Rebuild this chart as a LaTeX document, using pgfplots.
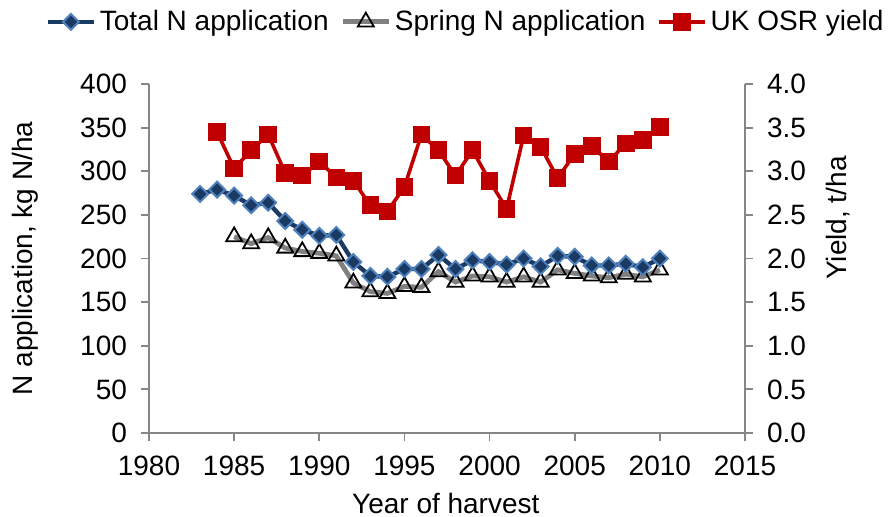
\documentclass[border=0pt]{standalone}
\usepackage{fontspec}
\setmainfont{Liberation Sans}
\usepackage{pgfplots}
\pgfplotsset{compat=1.18}

\definecolor{navy}{HTML}{1B3A63}
\definecolor{ltblue}{HTML}{4F81BD}
\definecolor{sgray}{HTML}{808080}
\definecolor{osr}{HTML}{C00000}
\definecolor{axgray}{HTML}{868686}

\pgfplotstableread{
year total
1983 274
1984 279
1985 272
1986 261
1987 264
1988 243
1989 233
1990 226
1991 227
1992 196
1993 180
1994 179
1995 188
1996 188
1997 204
1998 188
1999 198
2000 196
2001 193
2002 200
2003 191
2004 203
2005 202
2006 192
2007 192
2008 194
2009 190
2010 200
}\totaln

\pgfplotstableread{
year spring
1985 225
1986 217
1987 224
1988 212
1989 208
1990 206
1991 203
1992 172
1993 162
1994 160
1995 168
1996 167
1997 185
1998 173
1999 180
2000 179
2001 173
2002 179
2003 173
2004 187
2005 183
2006 180
2007 178
2008 182
2009 179
2010 187
}\springn

\pgfplotstableread{
year yield
1984 3.45
1985 3.03
1986 3.24
1987 3.42
1988 2.98
1989 2.95
1990 3.11
1991 2.93
1992 2.89
1993 2.61
1994 2.54
1995 2.82
1996 3.42
1997 3.24
1998 2.95
1999 3.24
2000 2.89
2001 2.57
2002 3.41
2003 3.28
2004 2.92
2005 3.20
2006 3.29
2007 3.11
2008 3.32
2009 3.36
2010 3.51
}\osryield

\pgfplotsset{
  common/.style={
    scale only axis, width=298pt, height=174.5pt,
    xmin=1980, xmax=2015,
    font=\fontsize{14}{16}\selectfont,
    /pgf/number format/assume math mode=true,
    /pgf/number format/1000 sep={},
    tick align=outside, major tick length=4pt,
    tick style={axgray, line width=0.9pt},
    axis line style={axgray, line width=0.9pt},
    clip=false,
  },
  totstyle/.style={navy, line width=2.2pt, mark=square*, mark size=2.8pt,
    mark options={fill=navy, draw=ltblue, line width=1pt, rotate=45}},
  sprstyle/.style={sgray, line width=2.4pt, mark=triangle, mark size=4.6pt,
    mark options={fill=white, draw=black, line width=0.9pt}},
  osrstyle/.style={osr, line width=1.8pt, mark=square*, mark size=3.5pt,
    mark options={fill=osr, draw=osr}},
}

\begin{document}
\begin{tikzpicture}
\begin{axis}[common,
    axis x line*=bottom, axis y line*=left,
    ymin=0, ymax=400, ytick={0,50,...,400},
    xtick={1980,1985,...,2015},
    xticklabel style={yshift=-4pt},
    yticklabel style={xshift=-3.5pt},
    xlabel={Year of harvest},
    ylabel={N application,  kg N/ha},
    xlabel style={at={(axis description cs:0.498,-0.232)}, anchor=base},
    ylabel style={at={(axis description cs:-0.208,0.5)}, anchor=center},
  ]
  \addplot[sprstyle] table[x=year, y=spring] {\springn};
  \addplot[totstyle] table[x=year, y=total] {\totaln};
\end{axis}
\begin{axis}[common,
    axis x line=none, axis y line*=right,
    ymin=0, ymax=4, ytick={0,0.5,...,4},
    yticklabel style={xshift=3.5pt, /pgf/number format/.cd, fixed, fixed zerofill, precision=1},
    ylabel={Yield, t/ha},
    ylabel style={at={(axis description cs:1.156,0.616)}, anchor=center},
    legend columns=3,
    legend style={draw=none, fill=none, at={(0.533,1.178)}, anchor=center,
      font=\fontsize{14}{16}\selectfont,
      /tikz/every even column/.append style={column sep=4pt}},
    legend image code/.code={
      \draw[mark repeat=2, mark phase=2, #1] plot coordinates {(0cm,0cm) (0.4cm,0cm) (0.8cm,0cm)};
    },
  ]
  \addlegendimage{totstyle}
  \addlegendentry{Total N application}
  \addlegendimage{sprstyle}
  \addlegendentry{Spring N application}
  \addplot[osrstyle] table[x=year, y=yield] {\osryield};
  \addlegendentry{UK OSR yield}
\end{axis}
\pgfresetboundingbox
\path[use as bounding box] ([shift={(-74.5pt,-42pt)}]current axis.south west) rectangle ([shift={(372pt,216.5pt)}]current axis.south west);
\end{tikzpicture}
\end{document}
